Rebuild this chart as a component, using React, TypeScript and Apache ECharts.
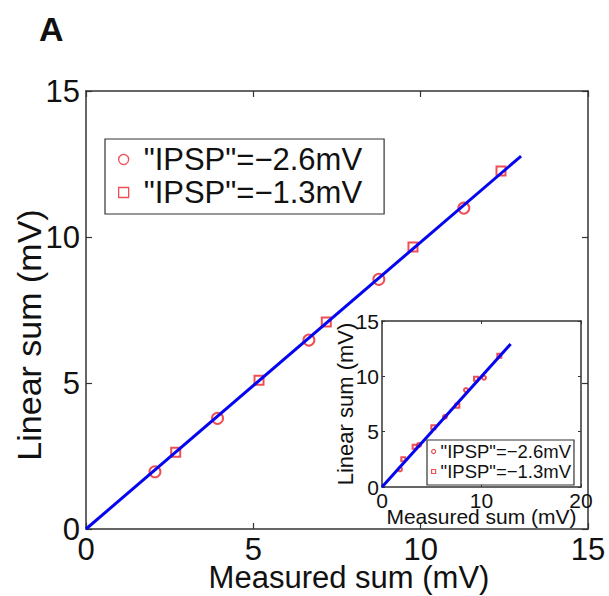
import React, { useEffect, useRef } from "react";
import * as echarts from "echarts";

// ---- data ----
const seriesNames = ['"IPSP"=\u22122.6mV', '"IPSP"=\u22121.3mV'];
const mainCircle = [[2.06, 1.96], [3.93, 3.79], [6.66, 6.47], [8.75, 8.55], [11.29, 10.99]];
const mainSquare = [[2.68, 2.63], [5.17, 5.09], [7.18, 7.09], [9.77, 9.66], [12.4, 12.26]];
const mainFit = [[0, 0], [13.0, 12.77]];
const insetCircle = [[1.81, 1.6], [3.72, 3.8], [6.33, 6.35], [8.44, 8.76], [10.25, 9.87]];
const insetSquare = [[2.14, 2.5], [3.28, 3.64], [5.16, 5.39], [7.57, 7.35], [9.45, 9.78], [11.79, 11.86]];
const insetFit = [[0, 0], [12.93, 12.92]];
const mainXRange = [0, 15, 5];
const mainYRange = [0, 15, 5];
const insetXRange = [0, 20, 10];
const insetYRange = [0, 15, 5];
const xName = "Measured sum (mV)";
const yName = "Linear sum (mV)";
const panelLabel = "A";

const FONT = "Liberation Sans, Arial, Helvetica, sans-serif";
const RED = "#e8232b";
const BLUE = "#0505f0";
const AXIS = "#333";
const TXT = "#111";
const SQUARE_ICON = "path://M0,0H10V10H0Z";

function valueAxis(range: number[], grid: number, opts: any) {
  return {
    type: "value",
    gridIndex: grid,
    min: range[0],
    max: range[1],
    interval: range[2],
    splitLine: { show: false },
    nameMoveOverlap: false,
    axisLine: { show: true, onZero: false, lineStyle: { color: AXIS, width: 1.5 } },
    ...opts,
  };
}

export default function App() {
  const ref = useRef<HTMLDivElement>(null);
  useEffect(() => {
    if (!ref.current) return;
    const chart = echarts.init(ref.current, undefined, { renderer: "svg" });
    const tickMain = { show: true, inside: true, length: 6, lineStyle: { color: AXIS, width: 1.2 } };
    const tickInset = { show: true, inside: true, length: 3, lineStyle: { color: AXIS, width: 1 } };
    const option: any = {
      animation: false,
      backgroundColor: "#fff",
      textStyle: { fontFamily: FONT },
      graphic: [
        {
          type: "text",
          left: 39,
          top: 12,
          style: { text: panelLabel, fontSize: 34, fontWeight: "bold", fontFamily: FONT, fill: "#111" },
        },
      ],
      grid: [
        { left: 86, top: 91, width: 502, height: 438, show: false, containLabel: false, outerBoundsMode: "none" },
        {
          left: 382, top: 321, width: 199, height: 166, show: true, backgroundColor: "#fff", borderWidth: 0, z: 5,
          containLabel: false, outerBoundsMode: "none",
        },
      ],
      xAxis: [
        valueAxis(mainXRange, 0, {
          position: "bottom",
          axisTick: tickMain,
          axisLabel: { fontSize: 31, margin: 5, color: TXT, fontFamily: FONT },
          name: xName,
          nameLocation: "middle",
          nameGap: 33,
          nameTextStyle: { fontSize: 31, color: TXT, fontFamily: FONT, padding: [0, 0, 0, 24] },
        }),
        valueAxis(mainXRange, 0, { position: "top", axisTick: tickMain, axisLabel: { show: false } }),
        valueAxis(insetXRange, 1, {
          position: "bottom",
          z: 6,
          axisTick: tickInset,
          axisLabel: { fontSize: 21, margin: 3, color: TXT, fontFamily: FONT },
          name: xName,
          nameLocation: "middle",
          nameGap: 19,
          nameTextStyle: { fontSize: 21, color: TXT, fontFamily: FONT },
        }),
        valueAxis(insetXRange, 1, { position: "top", z: 6, axisTick: tickInset, axisLabel: { show: false } }),
      ],
      yAxis: [
        valueAxis(mainYRange, 0, {
          position: "left",
          axisTick: tickMain,
          axisLabel: { fontSize: 31, margin: 6, color: TXT, fontFamily: FONT },
          name: yName,
          nameLocation: "middle",
          nameGap: 40,
          nameTextStyle: { fontSize: 34, color: TXT, fontFamily: FONT, padding: [0, 50, 0, 0] },
        }),
        valueAxis(mainYRange, 0, { position: "right", axisTick: tickMain, axisLabel: { show: false } }),
        valueAxis(insetYRange, 1, {
          position: "left",
          z: 6,
          axisTick: tickInset,
          axisLabel: { fontSize: 21, margin: 3, color: TXT, fontFamily: FONT },
          name: yName,
          nameLocation: "middle",
          nameGap: 26,
          nameTextStyle: { fontSize: 22, color: TXT, fontFamily: FONT },
        }),
        valueAxis(insetYRange, 1, { position: "right", z: 6, axisTick: tickInset, axisLabel: { show: false } }),
      ],
      legend: [
        {
          orient: "vertical",
          left: 105,
          top: 139,
          padding: [5, 22, 6, 13],
          itemGap: 2,
          itemWidth: 30,
          itemHeight: 10,
          borderColor: AXIS,
          borderWidth: 1.2,
          backgroundColor: "#fff",
          selectedMode: false,
          textStyle: { fontSize: 31, color: TXT, fontFamily: FONT },
          data: [
            { name: seriesNames[0], icon: "circle", itemStyle: { color: "rgba(0,0,0,0)", borderColor: RED, borderWidth: 1.3 } },
            { name: seriesNames[1], icon: SQUARE_ICON, itemStyle: { color: "rgba(0,0,0,0)", borderColor: RED, borderWidth: 1.3 } },
          ],
        },
        {
          orient: "vertical",
          left: 427,
          top: 440,
          padding: [2, 3, 4, 4],
          itemGap: 1,
          itemWidth: 4,
          itemHeight: 4,
          borderColor: AXIS,
          borderWidth: 1.2,
          backgroundColor: "#fff",
          selectedMode: false,
          z: 10,
          textStyle: { fontSize: 18.5, lineHeight: 16, color: TXT, fontFamily: FONT },
          data: [
            { name: seriesNames[0], icon: "circle", itemStyle: { color: "rgba(0,0,0,0)", borderColor: RED, borderWidth: 1.2 } },
            { name: seriesNames[1], icon: SQUARE_ICON, itemStyle: { color: "rgba(0,0,0,0)", borderColor: RED, borderWidth: 1.2 } },
          ],
        },
      ],
      series: [
        {
          type: "scatter",
          name: seriesNames[0],
          xAxisIndex: 0,
          yAxisIndex: 0,
          data: mainCircle,
          symbol: "emptyCircle",
          symbolSize: 11,
          itemStyle: { color: RED, borderWidth: 1.3 },
        },
        {
          type: "scatter",
          name: seriesNames[1],
          xAxisIndex: 0,
          yAxisIndex: 0,
          data: mainSquare,
          symbol: "emptyRect",
          symbolSize: 9,
          itemStyle: { color: RED, borderWidth: 1.3 },
        },
        {
          type: "line",
          name: "fit",
          xAxisIndex: 0,
          yAxisIndex: 0,
          data: mainFit,
          symbol: "none",
          lineStyle: { color: BLUE, width: 3 },
        },
        {
          type: "scatter",
          name: seriesNames[0],
          xAxisIndex: 2,
          yAxisIndex: 2,
          data: insetCircle,
          symbol: "emptyCircle",
          symbolSize: 4,
          z: 7,
          itemStyle: { color: RED, borderWidth: 1.2 },
        },
        {
          type: "scatter",
          name: seriesNames[1],
          xAxisIndex: 2,
          yAxisIndex: 2,
          data: insetSquare,
          symbol: "emptyRect",
          symbolSize: 4,
          z: 7,
          itemStyle: { color: RED, borderWidth: 1.2 },
        },
        {
          type: "line",
          name: "fit-inset",
          xAxisIndex: 2,
          yAxisIndex: 2,
          data: insetFit,
          symbol: "none",
          z: 8,
          lineStyle: { color: BLUE, width: 3 },
        },
      ],
    };
    chart.setOption(option);
    return () => chart.dispose();
  }, []);
  return <div ref={ref} style={{ width: 609, height: 596, position: "absolute", left: 0, top: 0 }} />;
}
